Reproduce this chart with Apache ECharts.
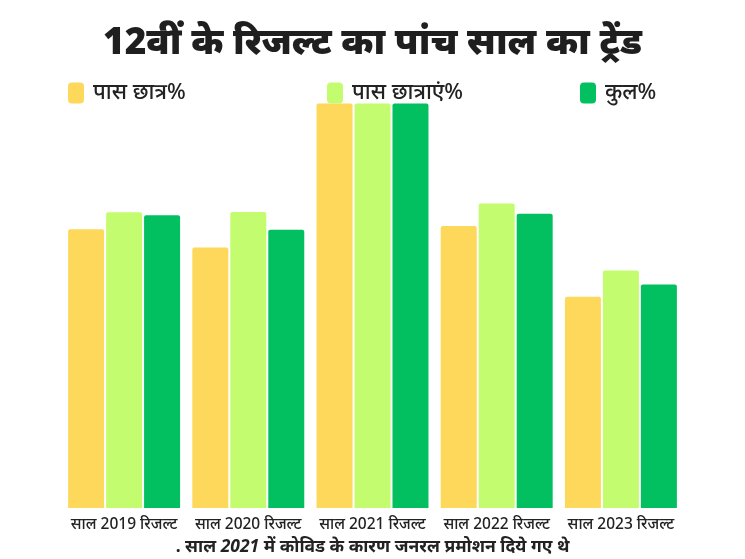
<!DOCTYPE html>
<html><head><meta charset="utf-8">
<script src="https://cdn.jsdelivr.net/npm/echarts@6/dist/echarts.min.js"></script>
<style>html,body{margin:0;padding:0;background:#fff}#c{width:745px;height:559px}</style>
</head><body><div id="c"></div>
<script>
const categories = ['साल 2019 रिजल्ट','साल 2020 रिजल्ट','साल 2021 रिजल्ट','साल 2022 रिजल्ट','साल 2023 रिजल्ट'];
const seriesNames = ['पास छात्र%','पास छात्राएं%','कुल%'];
const boys = [68.9, 64.4, 100, 69.7, 52.2];
const girls = [73.1, 73.2, 100, 75.3, 58.7];
const total = [72.37, 68.81, 100, 72.72, 55.28];
const colors = ['#FDD85B','#C3FD6F','#02C05F'];

const chart = echarts.init(document.getElementById('c'));
const ff = 'Noto Sans, sans-serif';
chart.setOption({
  animation:false,
  textStyle:{fontFamily:ff},
  title:[
    {text:'12वीं के रिजल्ट का पांच साल का ट्रेंड', left:'center', top:20,
     textStyle:{fontSize:37, fontWeight:900, color:'#1f1f1f', fontFamily:ff}},
    {text:'{n|. साल }{i|2021}{n| में कोविड के कारण जनरल प्रमोशन दिये गए थे}', left:'center', top:533,
     textStyle:{rich:{n:{fontSize:17.5,fontWeight:'bold',color:'#222',fontFamily:ff},
                      i:{fontSize:17.5,fontWeight:'bold',fontStyle:'italic',color:'#222',fontFamily:ff}}}}
  ],
  legend:[0,1,2].map((k)=>({
    data:[seriesNames[k]], left:[63,322,575][k], top:77, itemWidth:16, itemHeight:21, itemGap:10,
    icon:'roundRect', textStyle:{fontSize:22, color:'#222', fontWeight:500, fontFamily:ff, padding:[0,0,0,4]}
  })),
  grid:{left:62, right:62, top:103.5, bottom:51, containLabel:false},
  xAxis:{type:'category', data:categories,
    axisLine:{show:false}, axisTick:{show:false},
    axisLabel:{fontSize:15.5, color:'#222', fontWeight:500, margin:9, interval:0}},
  yAxis:{type:'value', min:0, max:100, show:false, splitLine:{show:false}},
  series:[boys,girls,total].map((d,k)=>({
    name:seriesNames[k], type:'bar', data:d, barWidth:36, barGap:'5.5%',
    itemStyle:{color:colors[k], borderRadius:[2,2,0,0]}
  }))
});
</script></body></html>
